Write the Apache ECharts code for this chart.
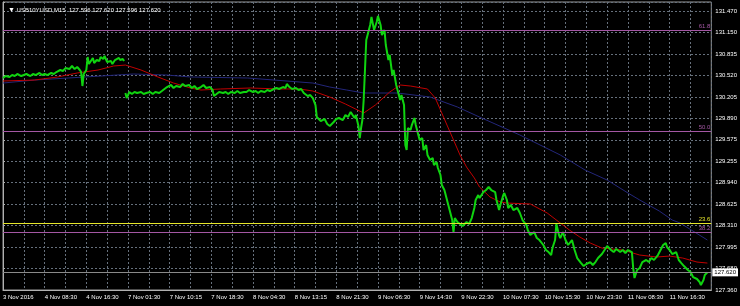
<!DOCTYPE html>
<html><head><meta charset="utf-8">
<script src="https://cdn.jsdelivr.net/npm/echarts@6/dist/echarts.min.js"></script>
<style>html,body{margin:0;padding:0;background:#000;}#c{width:740px;height:306px;}</style>
</head><body><div id="c"></div>
<script>
const symbolName = 'USB10YUSD,M15';
const ohlc = ['127.596', '127.620', '127.596', '127.620'];
const timeLabels = ['3 Nov 2016','4 Nov 08:30','4 Nov 16:30','7 Nov 01:30','7 Nov 10:15','7 Nov 18:30','8 Nov 04:30','8 Nov 13:15','8 Nov 21:30','9 Nov 06:30','9 Nov 14:30','9 Nov 22:30','10 Nov 07:30','10 Nov 15:30','10 Nov 23:30','11 Nov 08:30','11 Nov 16:30'];
const priceTicks = ['127.360','127.680','127.995','128.310','128.625','128.940','129.255','129.575','129.890','130.205','130.520','130.835','131.150','131.470'];
const fibNames = ['61.8','50.0','38.2','23.6'];
const fibPrices = [131.183, 129.702, 128.214, 128.342];
const bidPrice = 127.620;

// close prices by bar index (M15 bars)
const greenWeek1 = [[0,130.483],[2,130.512],[5,130.498],[7,130.527],[9,130.512],[11,130.542],[14,130.512],[16,130.527],[18,130.542],[21,130.512],[23,130.542],[25,130.527],[28,130.557],[30,130.527],[32,130.542],[34,130.527],[37,130.557],[39,130.542],[41,130.571],[44,130.601],[46,130.586],[48,130.630],[51,130.615],[53,130.660],[55,130.615],[57,130.645],[59,130.601],[60,130.571],[61,130.365],[62,130.542],[64,130.601],[65,130.792],[66,130.689],[67,130.719],[69,130.778],[70,130.704],[72,130.748],[74,130.733],[75,130.792],[77,130.763],[78,130.807],[80,130.719],[81,130.704],[83,130.733],[84,130.689],[86,130.748],[87,130.733],[89,130.778],[90,130.748],[92,130.763],[93,130.733]];
const greenWeek2 = [[94,130.262],[95,130.188],[97,130.277],[99,130.247],[101,130.277],[103,130.262],[106,130.277],[108,130.247],[110,130.262],[113,130.277],[115,130.247],[117,130.277],[120,130.262],[122,130.291],[124,130.321],[126,130.350],[129,130.380],[131,130.336],[133,130.365],[136,130.350],[138,130.395],[140,130.365],[143,130.380],[145,130.336],[147,130.365],[149,130.321],[152,130.350],[154,130.380],[156,130.336],[159,130.350],[161,130.306],[162,130.218],[164,130.247],[166,130.277],[169,130.262],[171,130.277],[173,130.247],[175,130.277],[178,130.262],[180,130.291],[182,130.262],[185,130.277],[187,130.277],[189,130.306],[192,130.277],[194,130.291],[196,130.262],[198,130.291],[201,130.277],[203,130.306],[205,130.291],[208,130.321],[210,130.336],[212,130.321],[215,130.350],[217,130.336],[218,130.395],[220,130.350],[222,130.321],[225,130.336],[227,130.306],[229,130.321],[231,130.262],[234,130.218],[236,130.232],[238,130.188],[240,130.085],[241,129.908],[242,129.879],[244,129.849],[247,129.879],[249,129.805],[251,129.776],[254,129.835],[256,129.879],[258,129.894],[261,129.864],[263,129.938],[265,129.908],[267,129.982],[270,129.894],[271,129.938],[273,129.776],[274,129.599],[275,129.746],[276,129.864],[277,130.159],[278,130.601],[279,131.043],[280,131.116],[282,131.264],[283,131.382],[285,131.190],[287,131.308],[288,131.396],[290,131.264],[291,131.116],[293,131.190],[294,130.969],[296,130.748],[297,130.822],[299,130.527],[300,130.601],[302,130.380],[303,130.306],[305,130.159],[306,130.232],[308,130.085],[309,129.496],[310,129.422],[311,129.746],[313,129.717],[314,129.790],[316,129.894],[317,129.790],[319,129.643],[320,129.570],[322,129.599],[323,129.422],[325,129.496],[326,129.349],[328,129.275],[330,129.304],[331,129.201],[333,129.245],[334,129.157],[336,129.054],[337,128.907],[339,128.833],[340,128.759],[342,128.612],[343,128.538],[345,128.391],[346,128.214],[347,128.420],[349,128.361],[351,128.332],[353,128.303],[356,128.361],[358,128.332],[360,128.420],[362,128.568],[363,128.686],[365,128.759],[366,128.715],[369,128.803],[371,128.833],[373,128.877],[375,128.833],[378,128.803],[379,128.686],[381,128.538],[382,128.612],[384,128.745],[385,128.789],[387,128.686],[388,128.568],[390,128.612],[392,128.538],[395,128.568],[397,128.494],[399,128.391],[402,128.317],[403,128.244],[405,128.170],[408,128.214],[410,128.126],[412,128.096],[415,128.023],[417,127.949],[419,127.919],[421,127.875],[422,127.978],[424,128.096],[425,128.332],[427,128.170],[428,128.126],[430,128.214],[432,128.096],[434,128.023],[437,128.096],[439,127.949],[441,127.831],[444,127.757],[446,127.713],[448,127.743],[451,127.772],[453,127.728],[455,127.772],[457,127.831],[460,127.890],[462,127.949],[464,128.008],[467,127.949],[469,127.919],[471,127.964],[474,127.919],[476,127.949],[478,127.905],[480,127.949],[483,127.919],[484,127.684],[485,127.536],[487,127.654],[489,127.684],[491,127.772],[494,127.802],[496,127.772],[498,127.831],[500,127.802],[503,127.875],[505,127.949],[507,128.023],[509,128.052],[510,127.993],[512,127.949],[514,127.890],[517,127.919],[519,127.802],[521,127.757],[523,127.713],[526,127.654],[528,127.625],[530,127.551],[533,127.522],[535,127.478],[536,127.433],[538,127.507],[539,127.581],[541,127.620]];
const redMA = [[0,130.439],[24,130.453],[42,130.498],[57,130.557],[73,130.601],[85,130.660],[94,130.674],[106,130.601],[119,130.498],[131,130.409],[144,130.336],[152,130.306],[167,130.321],[190,130.336],[213,130.321],[228,130.321],[238,130.291],[251,130.203],[263,130.100],[277,129.967],[286,130.085],[297,130.277],[305,130.380],[313,130.365],[326,130.321],[332,130.188],[336,130.011],[341,129.790],[346,129.570],[351,129.349],[356,129.172],[362,129.010],[366,128.877],[374,128.730],[382,128.656],[387,128.641],[405,128.627],[418,128.494],[428,128.347],[435,128.244],[443,128.141],[451,128.052],[460,127.978],[476,127.949],[489,127.875],[502,127.846],[512,127.860],[522,127.831],[533,127.772],[541,127.757]];
const blueMA = [[0,130.409],[24,130.453],[50,130.483],[75,130.512],[100,130.542],[126,130.527],[144,130.498],[188,130.483],[238,130.409],[251,130.350],[264,130.306],[277,130.262],[303,130.262],[328,130.203],[349,130.056],[366,129.908],[397,129.643],[428,129.349],[447,129.128],[464,128.980],[480,128.789],[489,128.686],[504,128.524],[514,128.391],[520,128.347],[541,128.096]];

const fibColors = ['#a457a4','#a457a4','#a457a4','#e6e62a'];
const yMin = 127.36, yStep = 4.11 / 13, yMax = 127.36 + 288 * 0.014732;
const xStep = 16, xMax = 544;
const F = 'Liberation Sans, Arial, sans-serif';

const chart = echarts.init(document.getElementById('c'), null, {renderer: 'canvas'});
const greenStyle = {type: 'line', showSymbol: false, symbol: 'none', lineStyle: {color: '#10d410', width: 2}, z: 3, silent: true};
chart.setOption({
  animation: false,
  backgroundColor: '#000000',
  title: {
    left: 3, top: 2,
    text: '{t|▼} ' + symbolName + '  ' + ohlc.join(' '),
    textStyle: {color: '#ffffff', fontSize: 6, fontFamily: F, fontWeight: 'normal',
      rich: {t: {fontSize: 7, color: '#ffffff'}}}
  },
  grid: {left: 2, right: 28, top: 2, bottom: 16, show: true, borderColor: '#9a9a9a', borderWidth: 1, backgroundColor: '#000'},
  xAxis: {
    type: 'value', min: 0, max: xMax, interval: xStep,
    axisLine: {show: true, lineStyle: {color: '#b0b0b0'}},
    axisTick: {show: false},
    splitLine: {show: true, lineStyle: {color: '#66707c', type: [2, 2], width: 1}},
    axisLabel: {
      color: '#ffffff', fontSize: 6, fontFamily: F, margin: 4, align: 'left',
      showMinLabel: true, showMaxLabel: true,
      formatter: v => (v % 32 === 0 && timeLabels[v / 32]) ? timeLabels[v / 32] : ''
    }
  },
  yAxis: {
    type: 'value', position: 'right', min: yMin, max: yMax, interval: yStep,
    axisLine: {show: true, lineStyle: {color: '#b0b0b0'}},
    axisTick: {show: true, length: 2, lineStyle: {color: '#b0b0b0'}},
    splitLine: {show: true, lineStyle: {color: '#66707c', type: [2, 2], width: 1}},
    axisLabel: {
      color: '#ffffff', fontSize: 6, fontFamily: F, margin: 4,
      showMinLabel: true, showMaxLabel: true,
      formatter: v => {
        const i = Math.round((v - yMin) / yStep);
        if (Math.abs(v - (yMin + i * yStep)) > 1e-6) return '';
        return priceTicks[i] || '';
      }
    }
  },
  series: [
    {type: 'line', data: blueMA, showSymbol: false, symbol: 'none', lineStyle: {color: '#23267a', width: 1}, z: 2, silent: true},
    {type: 'line', data: redMA, showSymbol: false, symbol: 'none', lineStyle: {color: '#c00000', width: 1}, z: 2, silent: true,
      markLine: {
        silent: true, symbol: 'none', animation: false,
        data: fibPrices.map((p, i) => ({
          yAxis: p, name: fibNames[i],
          lineStyle: {color: fibColors[i], type: 'solid', width: 1},
          label: {show: true, position: 'insideEndTop', formatter: '{b}', color: fibColors[i], fontSize: 6, fontFamily: F, distance: 1}
        })).concat([{
          yAxis: bidPrice, name: bidPrice.toFixed(3),
          lineStyle: {color: '#8a8a8a', type: 'solid', width: 1},
          label: {show: true, position: 'end', formatter: '{b}', color: '#000', backgroundColor: '#ffffff', fontSize: 6, fontFamily: F, padding: [1, 2, 1, 2], distance: 1}
        }])
      }},
    Object.assign({data: greenWeek1}, greenStyle),
    Object.assign({data: greenWeek2}, greenStyle)
  ]
});
</script></body></html>
